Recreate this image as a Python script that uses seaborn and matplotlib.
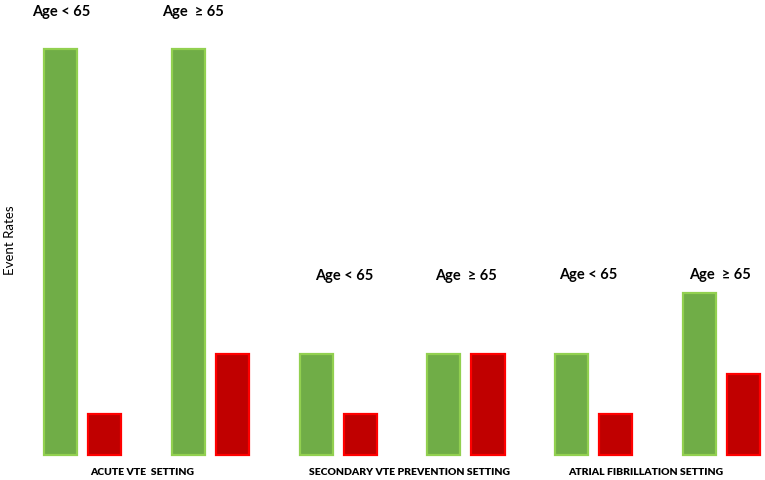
import pandas as pd
import matplotlib
matplotlib.use('Agg')
import matplotlib.pyplot as plt
import seaborn as sns

# six age groups, two bars each (green / red)
groups = ['Acute <65', 'Acute >=65', 'Secondary <65', 'Secondary >=65', 'AF <65', 'AF >=65']
green_values = [20, 20, 5, 5, 5, 8]
red_values = [2, 5, 2, 5, 2, 4]
age_labels = ['Age < 65', 'Age  \u2265 65', 'Age < 65', 'Age  \u2265 65', 'Age < 65', 'Age  \u2265 65']
setting_labels = ['ACUTE VTE  SETTING', 'SECONDARY VTE PREVENTION SETTING', 'ATRIAL FIBRILLATION SETTING']

df = pd.DataFrame({
    'group': groups * 2,
    'series': ['green'] * 6 + ['red'] * 6,
    'value': green_values + red_values,
})

sns.set_style('white')
plt.rcParams['font.family'] = ['Lato', 'DejaVu Sans']
plt.rcParams['text.color'] = 'black'

fig = plt.figure(figsize=(7.65, 4.81), dpi=100)
ax = fig.add_axes([0, 0, 1, 1])

sns.barplot(data=df, x='group', y='value', hue='series', order=groups,
            palette={'green': '#70AD47', 'red': '#C00000'}, saturation=1,
            width=0.69, gap=0.25, legend=False, ax=ax)

for bar, series in zip(ax.patches, ['green'] * 6 + ['red'] * 6):
    bar.set_edgecolor('#92D050' if series == 'green' else '#FF0000')
    bar.set_linewidth(1.6)

ax.set_xlim(-0.646, 5.34)
ax.set_ylim(-1.23, 22.46)
ax.axis('off')

# age labels above each group
label_x = [-0.17, 0.86, 0.05, 0.0, -0.04, -0.01]
label_y = [21.85, 21.85, 8.85, 8.85, 8.9, 8.9]
for i, (txt, dx, y) in enumerate(zip(age_labels, label_x, label_y)):
    ax.text(i + dx if i != 1 else dx, y, txt, ha='center', va='center',
            fontsize=10.5, fontweight='bold', color='black')

# setting labels along the bottom
setting_x = [0.47, 2.56, 4.41]
for x, txt in zip(setting_x, setting_labels):
    ax.text(x, -0.8, txt, ha='center', va='center', fontsize=7.5,
            fontweight='heavy', color='black')

fig.text(0.013, 0.5, 'Event Rates', rotation=90, ha='center', va='center',
         fontsize=9.5, color='black')

fig.savefig('out.png', dpi=100)
